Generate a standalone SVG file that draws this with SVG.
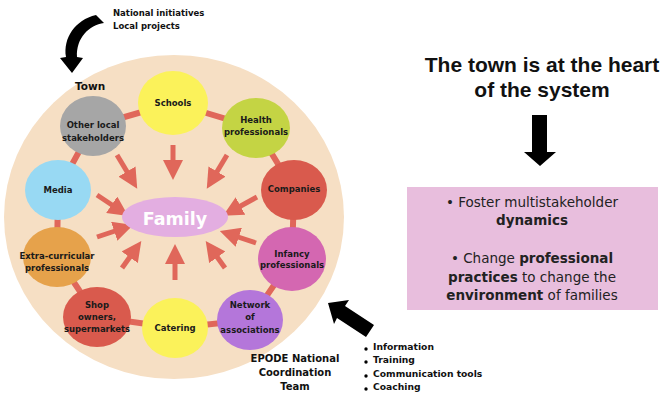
<svg xmlns="http://www.w3.org/2000/svg" width="672" height="403" viewBox="0 0 672 403">
<defs>
<style>
.n{font-family:"DejaVu Sans",Verdana,sans-serif;font-weight:bold;font-size:8.5px;fill:#1a1a1a;text-anchor:middle}
.lbl{font-family:"DejaVu Sans",Verdana,sans-serif;font-weight:bold;fill:#111}
.ring{stroke:#E0675A;stroke-width:6;fill:none}
.arr{stroke:#E0675A;stroke-width:5;fill:none;marker-end:url(#ah)}
.box{font-family:"DejaVu Sans",Verdana,sans-serif;font-size:13.5px;fill:#222;text-anchor:middle}
</style>
<marker id="ah" viewBox="0 0 10 10" refX="2" refY="5" markerWidth="4" markerHeight="4" orient="auto" markerUnits="strokeWidth">
<path d="M0,0 L10,5 L0,10 Z" fill="#E0675A"/>
</marker>
</defs>
<rect width="672" height="403" fill="#fff"/>
<ellipse id="town" cx="174" cy="217" rx="170" ry="162" fill="#F6DFC4"/>

<g id="connectors">
<polyline class="ring" points="173,103 256,128 294,190 292,259 250,320 175,328 97,317 57,257 58,190 93,126 173,103"/>
<line class="arr" x1="173" y1="145" x2="173" y2="164"/>
<line class="arr" x1="117" y1="155" x2="129" y2="175"/>
<line class="arr" x1="227" y1="155" x2="215" y2="175"/>
<line class="arr" x1="97" y1="195" x2="115" y2="207"/>
<line class="arr" x1="97" y1="237" x2="118" y2="230"/>
<line class="arr" x1="122" y1="268" x2="132" y2="254"/>
<line class="arr" x1="175" y1="280" x2="175" y2="260"/>
<line class="arr" x1="225" y1="268" x2="215" y2="254"/>
<line class="arr" x1="256" y1="243" x2="235" y2="236"/>
<line class="arr" x1="257" y1="197" x2="237" y2="208"/>
</g>

<g id="schools"><ellipse cx="173" cy="103" rx="35" ry="32" fill="#FBF25A"/><text class="n" x="173" y="106">Schools</text></g>
<g id="other"><ellipse cx="93" cy="126" rx="33" ry="30" fill="#A6A6A6"/><text class="n" x="93" y="128">Other local</text><text class="n" x="93" y="141">stakeholders</text></g>
<g id="health"><ellipse cx="256" cy="128" rx="34" ry="30" fill="#C4D444"/><text class="n" x="256" y="123">Health</text><text class="n" x="256" y="135">professionals</text></g>
<g id="media"><ellipse cx="58" cy="190" rx="33" ry="30" fill="#98D9F3"/><text class="n" x="58" y="193">Media</text></g>
<g id="companies"><ellipse cx="294" cy="190" rx="33" ry="30" fill="#D95A4D"/><text class="n" x="294" y="192">Companies</text></g>
<g id="extra"><ellipse cx="57" cy="257" rx="34" ry="30" fill="#E6A24B"/><text class="n" x="57" y="259">Extra-curricular</text><text class="n" x="57" y="271">professionals</text></g>
<g id="infancy"><ellipse cx="292" cy="259" rx="34" ry="32" fill="#D467B1"/><text class="n" x="292" y="257">Infancy</text><text class="n" x="292" y="268">professionals</text></g>
<g id="shop"><ellipse cx="97" cy="317" rx="34" ry="30" fill="#D95A4D"/><text class="n" x="97" y="308">Shop</text><text class="n" x="97" y="320">owners,</text><text class="n" x="97" y="332">supermarkets</text></g>
<g id="catering"><ellipse cx="175" cy="328" rx="33" ry="30" fill="#FBF25A"/><text class="n" x="175" y="331">Catering</text></g>
<g id="network"><ellipse cx="250" cy="320" rx="33" ry="30" fill="#B476DA"/><text class="n" x="250" y="308">Network</text><text class="n" x="250" y="320">of</text><text class="n" x="250" y="333">associations</text></g>
<g id="family"><ellipse cx="175" cy="217" rx="53" ry="20" fill="#E3AEE1"/><text x="175" y="225" text-anchor="middle" font-family="DejaVu Sans,Verdana,sans-serif" font-weight="bold" font-size="17.5" fill="#fff">Family</text></g>

<g id="top-note">
<text class="lbl" x="113" y="16" font-size="8.5">National initiatives</text>
<text class="lbl" x="113" y="29" font-size="8.5">Local projects</text>
<path d="M96,15 L104,23 C89,25 76,38 77,57 L83,58 L72,73 L60,58 L66,57 C63,38 75,20 96,15 Z" fill="#000"/>
<text class="lbl" x="75" y="90" font-size="10.5">Town</text>
</g>

<g id="title">
<text x="542" y="72" text-anchor="middle" font-family="Liberation Sans,Arial,sans-serif" font-weight="bold" font-size="21" fill="#111">The town is at the heart</text>
<text x="542" y="97" text-anchor="middle" font-family="Liberation Sans,Arial,sans-serif" font-weight="bold" font-size="21" fill="#111">of the system</text>
<path d="M532,115 L547,115 L547,152 L556,152 L540,166 L524,152 L532,152 Z" fill="#000"/>
</g>

<g id="goals">
<rect x="407" y="187" width="251" height="123" fill="#E8BEDD"/>
<text class="box" x="532" y="207">• Foster multistakeholder</text>
<text class="box" x="532" y="225" font-weight="bold">dynamics</text>
<text class="box" x="532" y="263">• Change <tspan font-weight="bold">professional</tspan></text>
<text class="box" x="532" y="282"><tspan font-weight="bold">practices</tspan> to change the</text>
<text class="box" x="532" y="300"><tspan font-weight="bold">environment</tspan> of families</text>
</g>

<g id="epode">
<path d="M328,303 L349,300 L345,306 L374,325 L366,337 L337,318 L334,324 Z" fill="#000"/>
<text class="lbl" x="295" y="362" font-size="10" text-anchor="middle">EPODE National</text>
<text class="lbl" x="295" y="376" font-size="10" text-anchor="middle">Coordination</text>
<text class="lbl" x="295" y="390" font-size="10" text-anchor="middle">Team</text>
</g>

<g id="tools">
<circle cx="366" cy="349" r="1.7" fill="#000"/>
<circle cx="366" cy="362" r="1.7" fill="#000"/>
<circle cx="366" cy="376" r="1.7" fill="#000"/>
<circle cx="366" cy="389" r="1.7" fill="#000"/>
<text class="lbl" x="373" y="350" font-size="9.2">Information</text>
<text class="lbl" x="373" y="363" font-size="9.2">Training</text>
<text class="lbl" x="373" y="377" font-size="9.2">Communication tools</text>
<text class="lbl" x="373" y="390" font-size="9.2">Coaching</text>
</g>
</svg>
